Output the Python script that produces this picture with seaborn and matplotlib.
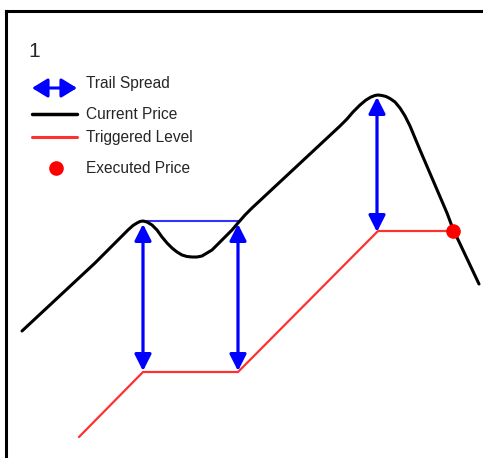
import numpy as np
import pandas as pd
import matplotlib
matplotlib.use('Agg')
import matplotlib.pyplot as plt
import seaborn as sns

sns.set_style('white')
plt.rcParams['font.family'] = ['Liberation Sans', 'DejaVu Sans']

# 当前价格曲线 (像素坐标)
price_x = [22, 95, 108, 115, 122, 128, 133, 137, 140, 143, 147, 152, 157, 162, 167,
           172, 177, 182, 187, 192, 197, 202, 207, 212, 217, 222, 227, 232, 238, 245,
           252, 340, 347, 353, 360, 366, 371, 375, 378, 382, 386, 390, 395, 400, 405,
           410, 415, 420, 426, 432, 447, 453, 479]
price_y = [331, 263, 250, 243, 236, 230, 225.5, 223, 221.5, 221, 222, 225, 230, 237, 243,
           248, 252, 255, 256.5, 257, 257, 256, 253, 250, 245, 240, 235, 230, 223, 215,
           208, 126, 119, 112, 105, 100, 97, 95.5, 95, 95.5, 96.5, 98.5, 102, 108, 116,
           126, 138, 150, 164, 178, 213, 229, 284]

# 触发水平线
trig_x = [79, 143, 238, 378, 453]
trig_y = [437, 372, 372, 231, 231]

# 追踪价差箭头
arrow_x = [143, 238, 377]
arrow_top = [224, 224, 97]
arrow_bottom = [371, 371, 232]

# 高点水平线
flat_x = [143, 240]
flat_y = [221, 221]

# 成交点
exec_x = [453]
exec_y = [231]

legend_labels = ['Trail Spread', 'Current Price', 'Triggered Level', 'Executed Price']
legend_y = [88, 119, 142, 173]

fig = plt.figure(figsize=(4.83, 4.58), dpi=100)
ax = fig.add_axes([6 / 483, 0, 477 / 483, 447 / 458])
ax.set_xlim(6, 483)
ax.set_ylim(458, 11)
for s in ['right', 'bottom']:
    ax.spines[s].set_visible(False)
for s in ['left', 'top']:
    ax.spines[s].set_linewidth(2.2)
    ax.spines[s].set_color('black')
ax.set_xticks([])
ax.set_yticks([])

price = pd.DataFrame({'x': price_x, 'y': price_y})
trig = pd.DataFrame({'x': trig_x, 'y': trig_y})
sns.lineplot(data=trig, x='x', y='y', sort=False, color='#ff3030', lw=1.6, ax=ax)
sns.lineplot(x=flat_x, y=flat_y, sort=False, color='#3333ff', lw=1.5, ax=ax)
sns.lineplot(data=price, x='x', y='y', sort=False, color='black', lw=2.2, ax=ax,
             solid_joinstyle='round')

arrow_style = dict(arrowstyle='<|-|>,head_length=0.95,head_width=0.48', color='blue',
                   lw=2.3, mutation_scale=10.5, shrinkA=0, shrinkB=0)
for x, t, b in zip(arrow_x, arrow_top, arrow_bottom):
    ax.annotate('', xy=(x, t), xytext=(x, b), arrowprops=arrow_style)

ax.plot(exec_x, exec_y, 'o', color='red', ms=9.5, zorder=5)

# 图例
ax.text(28, 57, '1', fontsize=15, va='baseline')
ax.annotate('', xy=(32, 88), xytext=(77, 88),
            arrowprops=dict(arrowstyle='<|-|>,head_length=0.9,head_width=0.55', color='blue',
                            lw=2.2, mutation_scale=10.5, shrinkA=0, shrinkB=0))
ax.plot([32, 77], [114, 114], color='black', lw=2.5)
ax.plot([32, 77], [137, 137], color='#ff3030', lw=2.2)
ax.plot([56], [168], 'o', color='red', ms=9.5)
for lab, y in zip(legend_labels, legend_y):
    ax.text(86, y, lab, fontsize=11.2, va='baseline')

fig.savefig('out.png', dpi=100)
